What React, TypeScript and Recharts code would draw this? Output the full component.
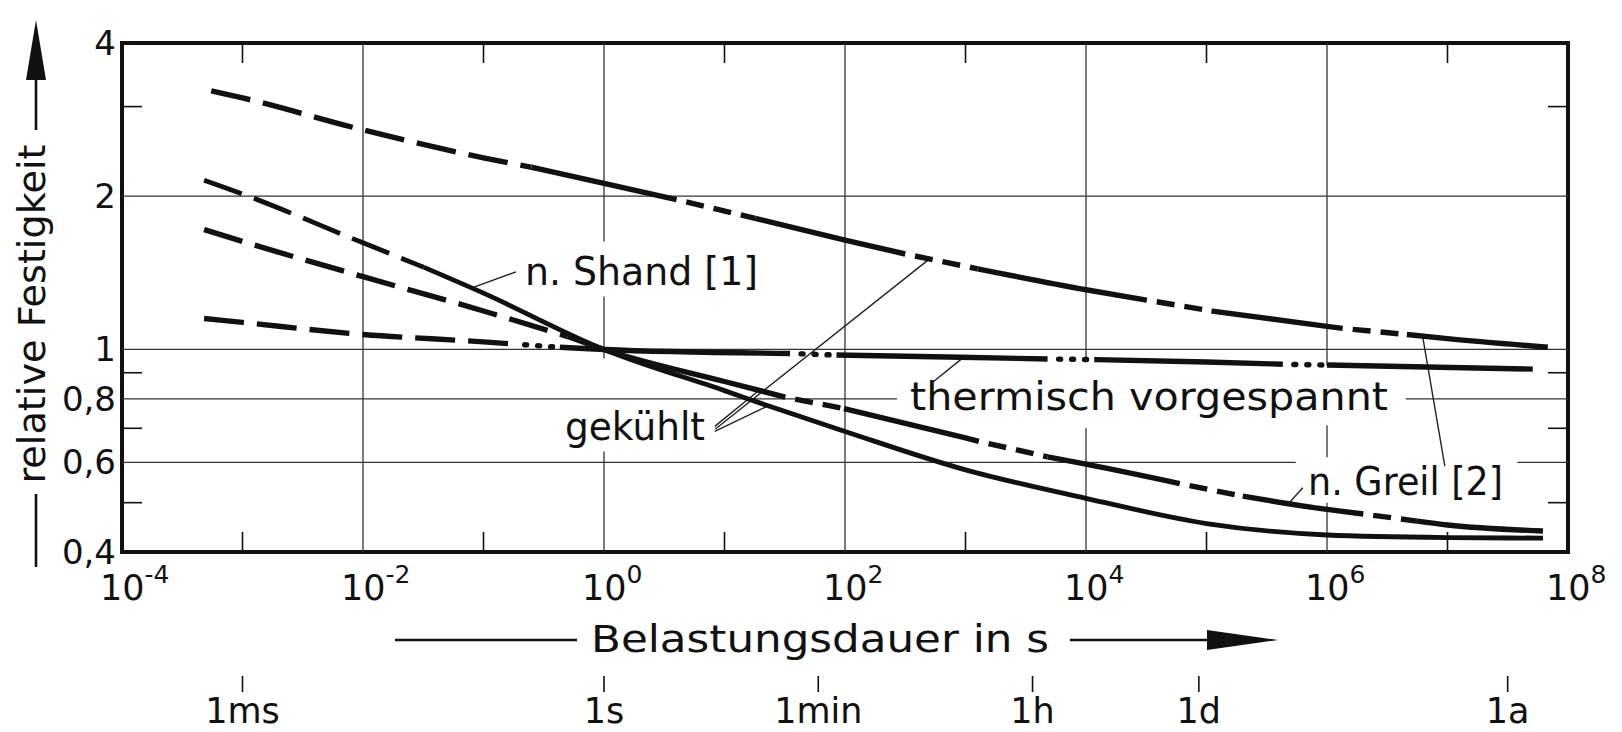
import React from "react";
import { LineChart, Line, XAxis, YAxis, ReferenceLine, ReferenceArea } from "recharts";

const WIDTH = 1622;
const HEIGHT = 732;
const FONT = "'DejaVu Sans', sans-serif";
const INK = "#111";
const MINOR = 20;

// n. Greil [2], upper curve
const greilUpperT = [5.5e-4, 1e-3, 1e-2, 0.1, 0.25, 1, 4, 18, 100, 316, 1260, 1e4, 3.2e4, 1.1e5, 1e6, 1.35e6, 4.6e6, 1e7, 6.8e7];
const greilUpperV = [3.22, 3.12, 2.7, 2.38, 2.28, 2.12, 1.97, 1.81, 1.64, 1.54, 1.44, 1.31, 1.25, 1.19, 1.11, 1.1, 1.07, 1.05, 1.01];
const greilUpperBreaks = [0.25, 4, 18, 316, 1260, 3.2e4, 1.1e5, 1.35e6, 4.6e6];
const greilUpperStyles = ["long", "solid", "short", "solid", "short", "solid", "short", "solid", "short", "solid"];

// n. Shand [1]
const shandT = [4.8e-4, 1e-3, 1e-2, 0.032, 0.1, 1, 10, 23, 100, 1e3, 1e4, 1e5, 1e6, 1e7, 6.2e7];
const shandV = [2.15, 2.02, 1.62, 1.45, 1.29, 1.0, 0.83, 0.775, 0.69, 0.58, 0.51, 0.455, 0.432, 0.427, 0.426];
const shandBreaks = [0.032];
const shandStyles = ["long", "solid"];

// n. Greil [2], lower curve
const greilLowerT = [4.8e-4, 1e-3, 1e-2, 0.1, 0.5, 1, 10, 32, 98, 1e3, 1290, 4800, 1e4, 6e4, 2e5, 1e6, 2e6, 5.6e6, 1e7, 6.2e7];
const greilLowerV = [1.72, 1.63, 1.39, 1.19, 1.06, 1.0, 0.865, 0.806, 0.765, 0.67, 0.66, 0.615, 0.595, 0.545, 0.515, 0.485, 0.475, 0.46, 0.452, 0.44];
const greilLowerBreaks = [0.5, 32, 98, 1290, 4800, 6e4, 2e5, 2e6, 5.6e6];
const greilLowerStyles = ["long", "solid", "short", "solid", "short", "solid", "short", "solid", "short", "solid"];

// thermisch vorgespannt
const thermT = [4.8e-4, 1e-3, 1e-2, 0.1, 0.178, 0.43, 1, 35, 85, 912, 4800, 1.17e4, 1e5, 4.3e5, 1e6, 5.1e7];
const thermV = [1.15, 1.13, 1.07, 1.035, 1.025, 1.01, 1.0, 0.982, 0.975, 0.965, 0.958, 0.955, 0.945, 0.935, 0.932, 0.915];
const thermBreaks = [0.178, 0.43, 35, 85, 4800, 1.17e4, 4.3e5, 1e6];
const thermStyles = ["long", "dot", "solid", "dot", "solid", "dot", "solid", "dot", "solid"];

// axes
const xDomain = [1e-4, 1e8];
const yDomain = [0.4, 4];
const decadeTicks = [1e-4, 1e-2, 1, 1e2, 1e4, 1e6, 1e8];
const oddDecadeTicks = [1e-3, 1e-1, 10, 1e3, 1e5, 1e7];
const yTicks = [0.4, 0.6, 0.8, 1, 2, 4];
const yMinorTicks = [0.5, 0.7, 0.9, 3];
const timeTicks = [1e-3, 1, 60, 3600, 86400, 3.156e7];
const timeLabels = ["1ms", "1s", "1min", "1h", "1d", "1a"];

// grid lines, with the gaps left for the lettering
const gridY = [0.6, 0.8, 1, 2];
const gridYGaps = [[[5.5e5, 3.8e7]], [[270, 4.5e6]], [], []];
const gridX = [1e-2, 1, 1e2, 1e4, 1e6];
const gridXGaps = [[], [[0.63, 0.96], [1.27, 1.63]], [], [[0.7, 0.95]], [[0.5, 0.614], [0.71, 0.93]]];

// leader lines [from, to]
const leaders = [
  [[0.186, 1.42], [0.079, 1.32]],
  [[537, 0.863], [912, 0.955]],
  [[8.3, 0.706], [18.6, 0.825]],
  [[8.3, 0.69], [23, 0.775]],
  [[8.4, 0.698], [500, 1.505]],
  [[6.3e5, 0.535], [4.8e5, 0.498]],
  [[9.5e6, 0.59], [6.2e6, 1.066]],
];

const dashStyles: any = {
  solid: { strokeLinecap: "butt" },
  long: { strokeDasharray: "40 13", strokeLinecap: "butt" },
  short: { strokeDasharray: "18 10", strokeDashoffset: 18, strokeLinecap: "butt" },
  dot: { strokeDasharray: "2 11", strokeDashoffset: 2, strokeLinecap: "round" },
};

function split(ts: number[], vs: number[], breaks: number[], styles: string[]) {
  const out: any[] = [];
  let cur: any[] = [];
  let k = 0;
  ts.forEach((t, i) => {
    cur.push({ t, v: vs[i] });
    if (k < breaks.length && t === breaks[k]) {
      out.push({ style: styles[k], data: cur });
      cur = [{ t, v: vs[i] }];
      k++;
    }
  });
  out.push({ style: styles[k], data: cur });
  return out;
}

const curves = [
  { name: "greilUpper", width: 5.4, segs: split(greilUpperT, greilUpperV, greilUpperBreaks, greilUpperStyles) },
  { name: "shand", width: 4.8, segs: split(shandT, shandV, shandBreaks, shandStyles) },
  { name: "greilLower", width: 5.4, segs: split(greilLowerT, greilLowerV, greilLowerBreaks, greilLowerStyles) },
  { name: "therm", width: 5.4, segs: split(thermT, thermV, thermBreaks, thermStyles) },
];

// corner points of the frame, used to bind the helper axes
const anchor = [
  { t: xDomain[0], v: yDomain[0] },
  { t: xDomain[1], v: yDomain[1] },
];

function pieces(lo: number, hi: number, gaps: number[][]) {
  const res: number[][] = [];
  let start = lo;
  gaps.forEach(([a, b]) => {
    res.push([start, a]);
    start = b;
  });
  res.push([start, hi]);
  return res;
}

const gridSegs: any[] = [];
gridY.forEach((v, i) => {
  pieces(xDomain[0], xDomain[1], gridYGaps[i]).forEach(([a, b]) => gridSegs.push([{ x: a, y: v }, { x: b, y: v }]));
});
gridX.forEach((t, i) => {
  pieces(yDomain[0], yDomain[1], gridXGaps[i]).forEach(([a, b]) => gridSegs.push([{ x: t, y: a }, { x: t, y: b }]));
});

function PowerTick(props: any) {
  const { x, y, payload } = props;
  const exp = Math.round(Math.log10(payload.value));
  return (
    <text x={x - 22} y={y + 48} fontFamily={FONT} fontSize={35} fill={INK}>
      10
      <tspan dy={-17} fontSize={25}>
        {String(exp)}
      </tspan>
    </text>
  );
}

function YTick(props: any) {
  const { x, y, payload } = props;
  return (
    <text x={x} y={y} dy={12} textAnchor="end" fontFamily={FONT} fontSize={34} fill={INK}>
      {String(payload.value).replace(".", ",")}
    </text>
  );
}

function TimeTick(props: any) {
  const { x, payload } = props;
  const label = timeLabels[timeTicks.indexOf(payload.value)];
  return (
    <g>
      <line x1={x} x2={x} y1={676} y2={692} stroke={INK} strokeWidth={1.6} />
      <text x={x} y={723} textAnchor="middle" fontFamily={FONT} fontSize={35} fill={INK}>
        {label}
      </text>
    </g>
  );
}

// short inward ticks on the frame; x/y is where the axis sits
const MinorBottom = ({ x, y }: any) => <line x1={x} x2={x} y1={y} y2={y - MINOR} stroke={INK} strokeWidth={1.6} />;
const MinorTop = ({ x, y }: any) => <line x1={x} x2={x} y1={y} y2={y + MINOR} stroke={INK} strokeWidth={1.6} />;
const MinorLeft = ({ x, y }: any) => <line x1={x} x2={x + MINOR} y1={y} y2={y} stroke={INK} strokeWidth={1.6} />;
const MinorRight = ({ x, y }: any) => <line x1={x} x2={x - MINOR} y1={y} y2={y} stroke={INK} strokeWidth={1.6} />;

const logX = { type: "number" as const, scale: "log" as const, domain: xDomain, allowDataOverflow: true, dataKey: "t" };
const logY = { type: "number" as const, scale: "log" as const, domain: yDomain, allowDataOverflow: true, dataKey: "v" };
const bare = { axisLine: false, tickLine: false, tickSize: 0, tickMargin: 0, interval: 0 as const };

const notes = [
  { text: "n. Shand [1]", x: 525, y: 285, len: 233 },
  { text: "gekühlt", x: 565, y: 440, len: 140 },
  { text: "thermisch vorgespannt", x: 910, y: 410, len: 478 },
  { text: "n. Greil [2]", x: 1308, y: 495, len: 195 },
];

export default function App() {
  return (
    <div style={{ position: "absolute", left: 0, top: 0, width: WIDTH, height: HEIGHT, background: "#fff" }}>
      <LineChart width={WIDTH} height={HEIGHT} margin={{ top: 43, right: 54, bottom: 120, left: 12 }}>
        <XAxis xAxisId="main" {...logX} {...bare} ticks={decadeTicks} height={60} tick={PowerTick} />
        <XAxis xAxisId="minorB" {...logX} {...bare} mirror ticks={oddDecadeTicks} tick={MinorBottom} />
        <XAxis xAxisId="minorT" orientation="top" {...logX} {...bare} mirror ticks={oddDecadeTicks} tick={MinorTop} />
        <XAxis xAxisId="time" {...logX} {...bare} mirror ticks={timeTicks} tick={TimeTick} />
        <YAxis yAxisId="main" {...logY} {...bare} ticks={yTicks} width={110} tickMargin={6} tick={YTick} />
        <YAxis yAxisId="minorL" {...logY} {...bare} mirror ticks={yMinorTicks} tick={MinorLeft} />
        <YAxis yAxisId="minorR" orientation="right" {...logY} {...bare} mirror ticks={yMinorTicks} tick={MinorRight} />

        {gridSegs.map((s, i) => (
          <ReferenceLine key={"g" + i} xAxisId="main" yAxisId="main" segment={s}
            stroke="#333" strokeWidth={1.3} ifOverflow="visible" />
        ))}
        {leaders.map((l, i) => (
          <ReferenceLine key={"l" + i} xAxisId="main" yAxisId="main"
            segment={[{ x: l[0][0], y: l[0][1] }, { x: l[1][0], y: l[1][1] }]}
            stroke="#222" strokeWidth={1.4} ifOverflow="visible" />
        ))}

        {/* invisible helpers so the extra axes get a domain */}
        <Line xAxisId="minorB" yAxisId="minorL" data={anchor} dataKey="v" stroke="none" dot={false} activeDot={false} isAnimationActive={false} />
        <Line xAxisId="minorT" yAxisId="minorR" data={anchor} dataKey="v" stroke="none" dot={false} activeDot={false} isAnimationActive={false} />
        <Line xAxisId="time" yAxisId="minorL" data={anchor} dataKey="v" stroke="none" dot={false} activeDot={false} isAnimationActive={false} />

        {curves.map((c) =>
          c.segs.map((s: any, i: number) => (
            <Line key={c.name + i} xAxisId="main" yAxisId="main" data={s.data} dataKey="v"
              type="monotone" stroke={INK} strokeWidth={c.width} dot={false} activeDot={false}
              isAnimationActive={false} {...dashStyles[s.style]} />
          ))
        )}

        <ReferenceArea xAxisId="main" yAxisId="main" x1={xDomain[0]} x2={xDomain[1]} y1={yDomain[0]} y2={yDomain[1]}
          fill="none" fillOpacity={0} stroke={INK} strokeWidth={4} ifOverflow="visible" />
      </LineChart>

      <svg width={WIDTH} height={HEIGHT} style={{ position: "absolute", left: 0, top: 0, pointerEvents: "none" }}>
        {notes.map((n) => (
          <text key={n.text} x={n.x} y={n.y} fontFamily={FONT} fontSize={39} fill={INK}
            textLength={n.len} lengthAdjust="spacingAndGlyphs">
            {n.text}
          </text>
        ))}

        {/* x axis title */}
        <line x1={395} x2={577} y1={640} y2={640} stroke={INK} strokeWidth={2.6} />
        <text x={591} y={652} fontFamily={FONT} fontSize={37} fill={INK} textLength={458} lengthAdjust="spacingAndGlyphs">
          Belastungsdauer in s
        </text>
        <line x1={1070} x2={1212} y1={640} y2={640} stroke={INK} strokeWidth={2.6} />
        <polygon points="1207,630 1278,640 1207,650" fill={INK} />

        {/* y axis title */}
        <text transform="translate(45,314) rotate(-90)" textAnchor="middle" fontFamily={FONT} fontSize={37}
          fill={INK} textLength={339} lengthAdjust="spacingAndGlyphs">
          relative Festigkeit
        </text>
        <line x1={36} x2={36} y1={494} y2={567} stroke={INK} strokeWidth={2.6} />
        <line x1={36} x2={36} y1={76} y2={130} stroke={INK} strokeWidth={2.6} />
        <polygon points="26,80 36,20 46,80" fill={INK} />
      </svg>
    </div>
  );
}
